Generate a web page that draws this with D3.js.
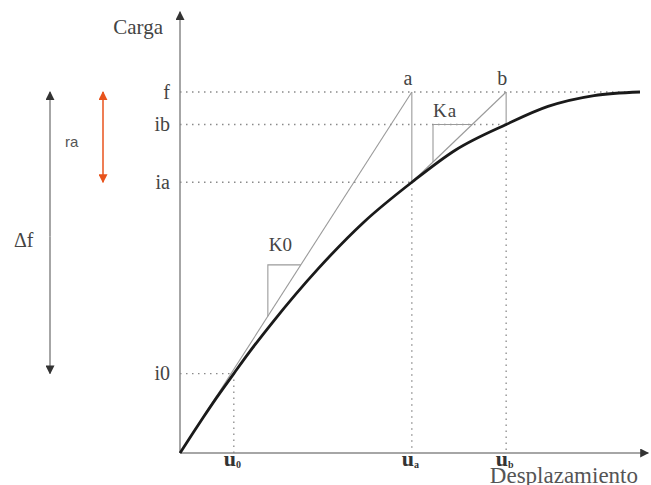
<!DOCTYPE html>
<html>
<head>
<meta charset="utf-8">
<script src="https://cdn.jsdelivr.net/npm/d3@7"></script>
<style>
  html, body { margin: 0; padding: 0; background: #fff; }
  svg { display: block; }
</style>
</head>
<body>
<svg id="chart" width="651" height="485"></svg>
<script>
// Load–displacement curve (normalised: peak load f = 1 at displacement 1)
const curveDisp = [0, 0.025, 0.05, 0.08, 0.117, 0.15, 0.2, 0.3, 0.4, 0.504, 0.6, 0.709, 0.8, 0.9, 1.0];
const curveLoad = [0, 0.049, 0.0975, 0.154, 0.22, 0.278, 0.36, 0.51, 0.64, 0.75, 0.84, 0.91, 0.96, 0.99, 1.0];

// Named load levels on the vertical axis
const levelNames  = ["i0", "ia", "ib", "f"];
const levelValues = [0.22, 0.75, 0.91, 1.0];

// Named displacements on the horizontal axis
const dispNames  = ["u", "u", "u"];
const dispSubs   = ["0", "a", "b"];
const dispValues = [0.117, 0.504, 0.709];

// Stiffness slope triangles: [x of vertical leg, load of horizontal leg]
const k0Tri = [0.191, 0.521];
const kaTri = [0.55, 0.91];

// Axis extents
const xMax = 1.018, yMax = 1.222;

const SERIF = '"Liberation Serif", "Times New Roman", serif';
const SANS = '"Liberation Sans", Arial, sans-serif';

const svg = d3.select("#chart");
const x = d3.scaleLinear().domain([0, 1]).range([180, 640]);
const y = d3.scaleLinear().domain([0, 1]).range([453, 92]);

const lvl = n => levelValues[levelNames.indexOf(n)];
const u0 = dispValues[0], ua = dispValues[1], ub = dispValues[2];
const f = lvl("f"), ia = lvl("ia"), ib = lvl("ib"), i0 = lvl("i0");

// arrowhead markers
const defs = svg.append("defs");
function marker(id, color) {
  defs.append("marker").attr("id", id)
    .attr("viewBox", "0 0 10 10").attr("refX", 9).attr("refY", 5)
    .attr("markerWidth", 9).attr("markerHeight", 9).attr("markerUnits", "userSpaceOnUse")
    .attr("orient", "auto-start-reverse")
    .append("path").attr("d", "M0,0 L10,5 L0,10 Z").attr("fill", color);
}
marker("arrGray", "#333");
marker("arrOrange", "#e8531c");

// dotted guide lines
const dotted = svg.append("g").attr("stroke", "#8a8a8a").attr("stroke-width", 1.3)
  .attr("stroke-dasharray", "1.5,4.5").attr("fill", "none");
[[i0, u0], [ia, ua], [ib, ub], [f, 1.0]].forEach(([lv, dx]) => {
  dotted.append("line").attr("x1", x(0)).attr("x2", x(dx)).attr("y1", y(lv)).attr("y2", y(lv));
});
[[u0, i0], [ua, ia], [ub, ib]].forEach(([dx, lv]) => {
  dotted.append("line").attr("x1", x(dx)).attr("x2", x(dx)).attr("y1", y(lv)).attr("y2", y(0));
});

// axes
const axG = svg.append("g");
axG.append("line").attr("x1", x(0)).attr("y1", y(0)).attr("x2", x(xMax)).attr("y2", y(0))
  .attr("stroke", "#888").attr("stroke-width", 1.5).attr("marker-end", "url(#arrGray)");
axG.append("line").attr("x1", x(0)).attr("y1", y(0)).attr("x2", x(0)).attr("y2", y(yMax))
  .attr("stroke", "#888").attr("stroke-width", 1.5).attr("marker-end", "url(#arrGray)");

// load level labels
const yAxis = d3.axisLeft(y).tickValues(levelValues)
  .tickFormat((d, i) => levelNames[i]).tickSize(0).tickPadding(10);
const yG = svg.append("g").attr("transform", `translate(${x(0)},0)`).call(yAxis);
yG.select(".domain").remove();
yG.selectAll("text").style("font-family", SERIF).style("font-size", "20px")
  .style("fill", "#444").attr("dy", "0.3em");

// displacement labels (bold u with subscript)
const xAxis = d3.axisBottom(x).tickValues(dispValues).tickFormat("").tickSize(0);
const xG = svg.append("g").attr("transform", `translate(0,${y(0)})`).call(xAxis);
xG.select(".domain").remove();
xG.selectAll(".tick").each(function(d, i) {
  const t = d3.select(this).append("text")
    .attr("x", -2).attr("y", 13).attr("text-anchor", "middle")
    .style("font-family", SERIF).style("font-weight", "bold")
    .style("font-size", "22px").style("fill", "#333");
  t.append("tspan").text(dispNames[i]);
  t.append("tspan").attr("dy", 2).style("font-size", "10px").text(dispSubs[i]);
});

// stiffness secants and drops
const thin = svg.append("g").attr("stroke", "#9a9a9a").attr("stroke-width", 1.1).attr("fill", "none");
const kA = (f - 0) / (ua - 0);          // K0 slope
const kB = (f - ia) / (ub - ua);        // Ka slope
thin.append("line").attr("x1", x(0)).attr("y1", y(0)).attr("x2", x(ua)).attr("y2", y(f));
thin.append("line").attr("x1", x(ua)).attr("y1", y(ia)).attr("x2", x(ub)).attr("y2", y(f));
thin.append("line").attr("x1", x(ua)).attr("y1", y(f)).attr("x2", x(ua)).attr("y2", y(ia));
thin.append("line").attr("x1", x(ub)).attr("y1", y(f)).attr("x2", x(ub)).attr("y2", y(ib));

// slope triangles
thin.append("polyline").attr("points", [
  [x(k0Tri[0]), y(kA * k0Tri[0])],
  [x(k0Tri[0]), y(k0Tri[1])],
  [x(k0Tri[1] / kA), y(k0Tri[1])]
].map(p => p.join(",")).join(" "));
thin.append("polyline").attr("points", [
  [x(kaTri[0]), y(ia + kB * (kaTri[0] - ua))],
  [x(kaTri[0]), y(kaTri[1])],
  [x(ua + (kaTri[1] - ia) / kB), y(kaTri[1])]
].map(p => p.join(",")).join(" "));

// main curve
const pts = curveDisp.map((d, i) => [d, curveLoad[i]]);
svg.append("path").datum(pts)
  .attr("d", d3.line().x(d => x(d[0])).y(d => y(d[1])).curve(d3.curveMonotoneX))
  .attr("fill", "none").attr("stroke", "#1a1a1a").attr("stroke-width", 2.8);

// text labels
function label(tx, ty, str, size, opts = {}) {
  return svg.append("text").attr("x", tx).attr("y", ty)
    .attr("text-anchor", opts.anchor || "start")
    .style("font-family", opts.family || SERIF).style("font-size", size + "px")
    .style("fill", opts.fill || "#444")
    .style("letter-spacing", opts.spacing || "0px")
    .text(str);
}
label(163, 34, "Carga", 21, { anchor: "end" });
label(638, 483, "Desplazamiento", 23, { anchor: "end", fill: "#555" });
label(x(ua) - 4, y(f) - 7, "a", 20, { anchor: "middle" });
label(x(ub) - 4, y(f) - 7, "b", 20, { anchor: "middle" });
label(x(k0Tri[0]) + 1, y(k0Tri[1]) - 14, "K0", 19);
label(x(kaTri[0]), y(kaTri[1]) - 7, "Ka", 19, { spacing: "1px" });

// Δf range arrow (gray) and ra range arrow (orange)
svg.append("line").attr("x1", 50).attr("x2", 50).attr("y1", y(0.6)).attr("y2", y(f))
  .attr("stroke", "#888").attr("stroke-width", 1.5).attr("marker-end", "url(#arrGray)");
svg.append("line").attr("x1", 50).attr("x2", 50).attr("y1", y(0.6)).attr("y2", y(i0))
  .attr("stroke", "#888").attr("stroke-width", 1.5).attr("marker-end", "url(#arrGray)");
label(14, 247, "\u0394f", 20);

svg.append("line").attr("x1", 103).attr("x2", 103).attr("y1", y(ia)).attr("y2", y(f))
  .attr("stroke", "#e8531c").attr("stroke-width", 1.5)
  .attr("marker-start", "url(#arrOrange)").attr("marker-end", "url(#arrOrange)");
label(65, 147, "ra", 15, { family: SANS, fill: "#555" });
</script>
</body>
</html>
